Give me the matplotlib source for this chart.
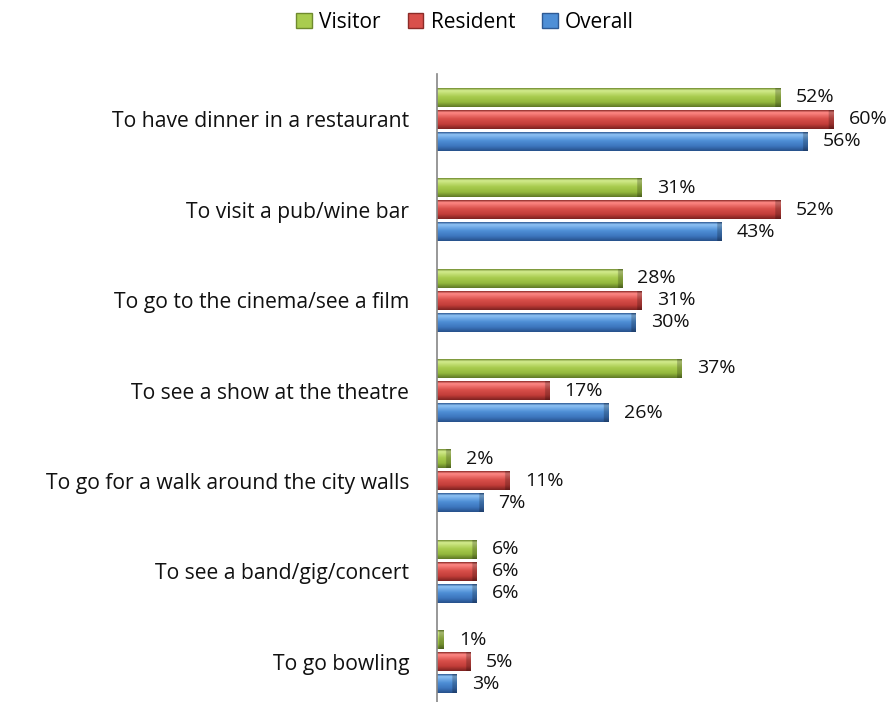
import numpy as np
import matplotlib
matplotlib.use('Agg')
import matplotlib.pyplot as plt
from matplotlib.colors import LinearSegmentedColormap
from matplotlib.patches import Patch

plt.rcParams['font.family'] = ['Open Sans', 'DejaVu Sans']

# Survey results (% of respondents)
categories = [
    'To have dinner in a restaurant',
    'To visit a pub/wine bar',
    'To go to the cinema/see a film',
    'To see a show at the theatre',
    'To go for a walk around the city walls',
    'To see a band/gig/concert',
    'To go bowling',
]
visitor = [52, 31, 28, 37, 2, 6, 1]
resident = [60, 52, 31, 17, 11, 6, 5]
overall = [56, 43, 30, 26, 7, 6, 3]

series = [
    ('Visitor', visitor, ['#6f8a2e', '#d4ec8f', '#a9cc4f', '#93b83c', '#5e7826']),
    ('Resident', resident, ['#8c2b28', '#ff8a86', '#d9504b', '#c23d39', '#7d2220']),
    ('Overall', overall, ['#2e5a94', '#8fc3f5', '#4f8fd6', '#3c75bd', '#27508a']),
]

fig = plt.figure(figsize=(8.91, 7.02), dpi=100)
ax = fig.add_axes([437 / 891, -5 / 702, 443 / 891, 633 / 702])

y = np.arange(len(categories))
h = 0.21
offsets = [-0.244, 0.0, 0.244]

for (name, vals, shades), off in zip(series, offsets):
    cmap = LinearSegmentedColormap.from_list(name, list(zip([0, 0.12, 0.45, 0.75, 1.0], shades)))
    col = cmap(np.linspace(0, 1, 64))[:, :3]
    bars = ax.barh(y + off, vals, height=h, color=shades[2], edgecolor='none')
    for bar, v in zip(bars, vals):
        yc = bar.get_y() + h / 2
        # vertical bevel gradient, darkened over the last bit of the bar
        xs = np.linspace(0, v, 300)
        shade = np.where(xs > v - 0.7, 0.78, 1.0)
        img = col[:, None, :] * shade[None, :, None]
        im = ax.imshow(img, aspect='auto', interpolation='bilinear',
                       extent=(0, v, yc + h / 2, yc - h / 2), zorder=2)
        im.set_clip_path(bar)
        ax.annotate(f'{v}%', (v, yc), xytext=(11, 0), textcoords='offset points',
                    va='center', ha='left', fontsize=14, color='#111111')

ax.set_xlim(0, 67)
ax.set_ylim(len(categories) - 0.5, -0.5)
ax.set_yticks(y)
ax.set_yticklabels(categories, fontsize=15.2, color='#111111')
ax.tick_params(axis='y', length=0, pad=20)
ax.set_xticks([])
for side in ['top', 'right', 'bottom']:
    ax.spines[side].set_visible(False)
ax.spines['left'].set_color('#868686')
ax.spines['left'].set_linewidth(1.2)

handles = [Patch(facecolor=s[2][2], edgecolor=s[2][0], label=s[0]) for s in series]
fig.legend(handles=handles, loc='upper center', bbox_to_anchor=(0.522, 1.01), ncol=3,
           frameon=False, fontsize=15, handlelength=0.75, handleheight=0.75,
           handletextpad=0.35, columnspacing=1.3)

fig.savefig('out.png', dpi=100)
